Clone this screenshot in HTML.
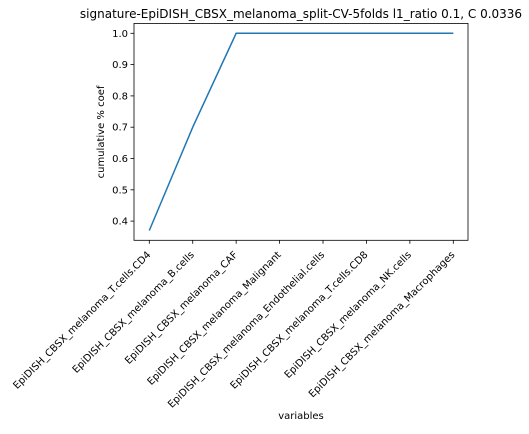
<!DOCTYPE html>
<html><head><meta charset="utf-8"><style>
body{margin:0;background:#fff;width:529px;height:429px;overflow:hidden}
svg{font-family:"DejaVu Sans","Liberation Sans",sans-serif}
</style></head><body>
<svg width="529" height="429">
<text x="301" y="18" font-size="12" text-anchor="middle">signature-EpiDISH_CBSX_melanoma_split-CV-5folds l1_ratio 0.1, C 0.0336</text>
<g id="ax"></g>
<text x="301" y="419" font-size="10" text-anchor="middle">variables</text>
<text transform="translate(104,132) rotate(-90)" font-size="10" text-anchor="middle">cumulative % coef</text>
</svg>
<script>
const categories=["EpiDISH_CBSX_melanoma_T.cells.CD4","EpiDISH_CBSX_melanoma_B.cells","EpiDISH_CBSX_melanoma_CAF","EpiDISH_CBSX_melanoma_Malignant","EpiDISH_CBSX_melanoma_Endothelial.cells","EpiDISH_CBSX_melanoma_T.cells.CD8","EpiDISH_CBSX_melanoma_NK.cells","EpiDISH_CBSX_melanoma_Macrophages"];
const values=[0.37,0.70,1.0,1.0,1.0,1.0,1.0,1.0];
const yTicks=[0.4,0.5,0.6,0.7,0.8,0.9,1.0];
const NS="http://www.w3.org/2000/svg";
const g=document.getElementById('ax');
const L=134,R=468,T=23.4,B=240.3;
const x=i=>149.3+i*(453.3-149.3)/(categories.length-1);
const y=v=>33.3+(1.0-v)*313;
function mk(t,a){const e=document.createElementNS(NS,t);for(const k in a)e.setAttribute(k,a[k]);g.appendChild(e);return e;}
const fr=mk('rect',{x:L,y:T,width:R-L,height:B-T,fill:'none',stroke:'#000','stroke-width':0.8});


yTicks.forEach(v=>{
 const l=mk('line',{x1:L-3.5,x2:L,y1:y(v),y2:y(v),stroke:'#000','stroke-width':0.8});
 
 
 const t=mk('text',{x:L-6,y:y(v)+3.5,'font-size':10,'text-anchor':'end'});
 t.textContent=v.toFixed(1);
 
 
});
categories.forEach((c,i)=>{
 const l=mk('line',{x1:x(i),x2:x(i),y1:B,y2:B+3.5,stroke:'#000','stroke-width':0.8});
 
 
 const t=mk('text',{transform:`translate(${x(i)+2},${B+15}) rotate(-45)`,'font-size':10,'text-anchor':'end'});
 t.textContent=c;
 
 
});
const p=mk('polyline',{points:values.map((v,i)=>x(i)+','+y(v)).join(' '),fill:'none',stroke:'#1f77b4','stroke-width':1.5});


</script>
</body></html>
